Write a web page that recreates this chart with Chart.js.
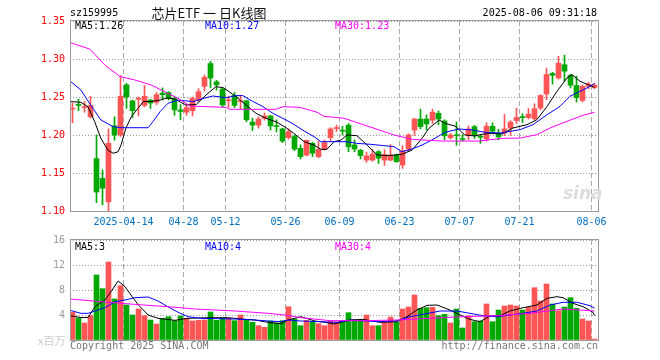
<!DOCTYPE html>
<html>
<head>
<meta charset="utf-8">
<script src="https://cdn.jsdelivr.net/npm/chart.js@4.4.1/dist/chart.umd.min.js"></script>
<style>
body { margin: 0; background: #fff; }
#wrap { position: relative; width: 660px; height: 360px; overflow: hidden; font-family: "DejaVu Sans Mono", monospace; font-size: 10px; }
canvas { position: absolute; left: 0; }
.t { position: absolute; white-space: nowrap; line-height: 12px; }
</style>
</head>
<body>
<div id="wrap">
  <canvas id="kline" width="660" height="230" style="top:0"></canvas>
  <canvas id="vol" width="660" height="130" style="top:230px"></canvas>

  <div class="t" style="left:70px;top:7px;color:#000">sz159995</div>
  <div class="t" style="left:150px;top:5px;width:118px;text-align:center;font-family:'Noto Sans CJK SC';font-size:13px;line-height:16px;color:#111">芯片ETF 一 日K线图</div>
  <div class="t" style="right:63px;top:7px;color:#000">2025-08-06 09:31:18</div>

  <div class="t" style="left:75px;top:20px;color:#000">MA5:1.26</div>
  <div class="t" style="left:205px;top:20px;color:#0000ff">MA10:1.27</div>
  <div class="t" style="left:335px;top:20px;color:#ff00ff">MA30:1.23</div>

  <div class="t" style="left:75px;top:241px;color:#000">MA5:3</div>
  <div class="t" style="left:205px;top:241px;color:#0000ff">MA10:4</div>
  <div class="t" style="left:335px;top:241px;color:#ff00ff">MA30:4</div>

  <div class="t" style="left:563px;top:183px;font-family:'DejaVu Sans';font-weight:bold;font-style:italic;font-size:17px;line-height:20px;color:#dcdcdc">sina</div>

  <div class="t" style="left:38px;top:334px;font-family:'Noto Sans CJK SC';font-size:11px;color:#ccc">x百万</div>
  <div class="t" style="left:70px;top:340px;color:#777">Copyright 2025 SINA.COM</div>
  <div class="t" style="right:62px;top:340px;color:#777">http://finance.sina.com.cn</div>
</div>

<script>
// 日K数据 2025-03-31 .. 2025-08-06
const opens = [
  1.234, 1.240, 1.236, 1.224, 1.169, 1.143, 1.112, 1.212, 1.200, 1.266,
  1.245, 1.247, 1.239, 1.246, 1.243, 1.255, 1.256, 1.248, 1.233, 1.230,
  1.232, 1.246, 1.264, 1.294, 1.270, 1.2605, 1.245, 1.252, 1.244, 1.245,
  1.217, 1.213, 1.222, 1.225, 1.2115, 1.208, 1.1965, 1.198, 1.1825, 1.1735,
  1.189, 1.1715, 1.1815, 1.1965, 1.2085, 1.2055, 1.213, 1.187, 1.180, 1.167,
  1.167, 1.178, 1.167, 1.167, 1.1735, 1.1605, 1.1815, 1.2065, 1.221, 1.221,
  1.2195, 1.2285, 1.2185, 1.1965, 1.1995, 1.1945, 1.199, 1.211, 1.1975, 1.195,
  1.2115, 1.202, 1.2025, 1.209, 1.219, 1.2235, 1.223, 1.2215, 1.2355, 1.254,
  1.281, 1.275, 1.2925, 1.2785, 1.265, 1.2455, 1.264, 1.2625
];
const closes = [
  1.2345, 1.239, 1.2365, 1.239, 1.125, 1.130, 1.189, 1.200, 1.251, 1.250,
  1.232, 1.2475, 1.251, 1.242, 1.253, 1.253, 1.248, 1.233, 1.231, 1.236,
  1.248, 1.257, 1.276, 1.275, 1.266, 1.2395, 1.2455, 1.239, 1.2445, 1.220,
  1.213, 1.221, 1.225, 1.212, 1.211, 1.192, 1.2045, 1.1815, 1.1715, 1.193,
  1.176, 1.181, 1.190, 1.208, 1.209, 1.205, 1.1845, 1.1815, 1.173, 1.1725,
  1.175, 1.1695, 1.1745, 1.1735, 1.165, 1.179, 1.200, 1.221, 1.211, 1.2145,
  1.230, 1.221, 1.199, 1.200, 1.199, 1.194, 1.208, 1.200, 1.197, 1.2115,
  1.205, 1.1975, 1.208, 1.217, 1.223, 1.223, 1.2275, 1.2345, 1.252, 1.2795,
  1.2785, 1.2945, 1.284, 1.2655, 1.249, 1.264, 1.267, 1.2655
];
const highs = [
  1.242, 1.247, 1.244, 1.251, 1.200, 1.154, 1.208, 1.224, 1.278, 1.268,
  1.246, 1.250, 1.265, 1.247, 1.256, 1.262, 1.257, 1.250, 1.240, 1.241,
  1.250, 1.261, 1.279, 1.297, 1.272, 1.2615, 1.251, 1.256, 1.252, 1.246,
  1.222, 1.224, 1.229, 1.226, 1.220, 1.209, 1.208, 1.200, 1.187, 1.1935,
  1.1905, 1.192, 1.1935, 1.2095, 1.213, 1.2115, 1.215, 1.1935, 1.181, 1.1775,
  1.181, 1.1795, 1.1805, 1.1875, 1.175, 1.186, 1.2015, 1.222, 1.234, 1.2265,
  1.234, 1.2315, 1.220, 1.202, 1.217, 1.2005, 1.212, 1.2125, 1.200, 1.216,
  1.216, 1.2075, 1.227, 1.219, 1.235, 1.228, 1.235, 1.241, 1.253, 1.288,
  1.2825, 1.3035, 1.305, 1.280, 1.2775, 1.266, 1.2695, 1.268
];
const lows = [
  1.216, 1.232, 1.230, 1.222, 1.111, 1.108, 1.100, 1.193, 1.198, 1.235,
  1.223, 1.225, 1.237, 1.235, 1.240, 1.246, 1.246, 1.226, 1.220, 1.226,
  1.225, 1.244, 1.258, 1.262, 1.259, 1.236, 1.236, 1.236, 1.234, 1.2175,
  1.206, 1.209, 1.2195, 1.2065, 1.204, 1.190, 1.1945, 1.1795, 1.1685, 1.1725,
  1.1715, 1.170, 1.180, 1.1915, 1.2045, 1.200, 1.178, 1.178, 1.1685, 1.164,
  1.1655, 1.1625, 1.160, 1.166, 1.164, 1.156, 1.178, 1.1995, 1.208, 1.2065,
  1.215, 1.2135, 1.1935, 1.1945, 1.1865, 1.192, 1.194, 1.1955, 1.189, 1.192,
  1.2015, 1.1935, 1.199, 1.1996, 1.215, 1.2165, 1.221, 1.220, 1.233, 1.2465,
  1.267, 1.2735, 1.2705, 1.262, 1.2435, 1.2435, 1.261, 1.261
];
// 成交量（百万）
const volumes = [
  4.43, 3.52, 2.72, 3.89, 10.4, 8.21, 12.48, 6.56, 8.69, 5.6,
  4.0, 4.96, 3.89, 3.2, 2.56, 3.47, 3.73, 3.09, 3.84, 3.47,
  3.04, 3.15, 3.2, 4.48, 3.15, 3.47, 3.47, 3.09, 4.0, 3.25,
  2.83, 2.29, 2.03, 3.04, 2.72, 3.09, 5.33, 3.36, 2.29, 3.15,
  2.83, 2.61, 2.29, 3.0, 2.9, 3.09, 4.37, 3.2, 3.04, 4.0,
  2.29, 2.29, 2.93, 3.68, 2.83, 4.96, 5.28, 7.2, 5.07, 5.17,
  5.23, 3.89, 4.11, 2.72, 4.96, 1.92, 3.89, 2.93, 3.04, 5.76,
  2.93, 4.8, 5.44, 5.6, 5.44, 4.8, 5.23, 8.37, 6.24, 8.96,
  5.76, 4.69, 5.28, 6.77, 5.07, 3.36, 3.04, 0.16
];

// 均线读数 [K线序号, 值]
const ma5Price = [
  [-0.4, 1.244], [1.4, 1.243], [2.6, 1.237], [3.7, 1.2175], [4.7, 1.196], [5.9, 1.180], [6.8, 1.176],
  [7.6, 1.178], [8.1, 1.187], [8.9, 1.209], [9.8, 1.224], [10.9, 1.235], [11.8, 1.244], [13.1, 1.244],
  [14.6, 1.246], [15.9, 1.249], [17.1, 1.247], [18.9, 1.2395], [20.6, 1.240], [22.25, 1.2526],
  [23.9, 1.2636], [25.1, 1.2623], [26.1, 1.257], [27.25, 1.2504], [28.9, 1.2395], [30.6, 1.2285],
  [32.25, 1.2219], [33.9, 1.2175], [35.6, 1.2096], [36.9, 1.2022], [38.6, 1.1912], [40.25, 1.1868],
  [41.4, 1.1811], [42.4, 1.1811], [43.6, 1.1912], [44.75, 1.1934], [45.75, 1.200], [47.4, 1.1991],
  [49.1, 1.1868], [50.75, 1.1737], [52.4, 1.1728], [54.9, 1.1746], [56.6, 1.1803], [58.25, 1.1956],
  [59.4, 1.2088], [61.1, 1.2197], [62.1, 1.2153], [63.75, 1.2118], [65.4, 1.200], [67.1, 1.1987],
  [68.25, 1.2009], [69.9, 1.2022], [71.6, 1.2013], [73.4, 1.2092], [75.75, 1.2136], [77.4, 1.2202],
  [79.1, 1.2377], [80.75, 1.2575], [82.4, 1.275], [83.25, 1.2794], [84.6, 1.2706], [86.25, 1.2653],
  [87, 1.2625]
];
const ma10Price = [
  [-0.4, 1.271], [1.4, 1.2592], [3.4, 1.235], [4.75, 1.2197], [6.75, 1.211], [8.1, 1.2096],
  [12.6, 1.2096], [13.4, 1.2175], [14.6, 1.2307], [15.9, 1.2417], [17.6, 1.246], [20.1, 1.2439],
  [22.25, 1.2491], [23.4, 1.2513], [25.6, 1.249], [27.25, 1.2518], [28.4, 1.2518], [30.1, 1.2439],
  [31.75, 1.2373], [33.4, 1.2285], [35.6, 1.2197], [36.9, 1.214], [38.6, 1.2053], [40.25, 1.1978],
  [41.4, 1.1912], [45.75, 1.1912], [47.4, 1.189], [49.75, 1.1877], [51.9, 1.186], [53.6, 1.1846],
  [54.9, 1.178], [56.6, 1.1816], [58.25, 1.1868], [59.9, 1.1934], [62.1, 1.2035], [64.4, 1.2079],
  [66.6, 1.2066], [68.75, 1.2035], [71.25, 1.2026], [74.6, 1.207], [76.75, 1.2136], [79.1, 1.2268],
  [81.25, 1.2377], [82.9, 1.2509], [84.6, 1.2575], [86.25, 1.264], [87, 1.268]
];
const ma30Price = [
  [-0.4, 1.3216], [2.9, 1.313], [5.4, 1.292], [7.9, 1.277], [10.4, 1.2724], [13.1, 1.2658],
  [15.9, 1.2548], [17.6, 1.2482], [19.6, 1.238], [25.6, 1.2364], [26.1, 1.2338], [33.9, 1.2338],
  [35.1, 1.2373], [37.9, 1.2364], [40.75, 1.230], [41.9, 1.2246], [45.25, 1.222], [48.6, 1.2132],
  [53.6, 1.200], [56.6, 1.1943], [61.6, 1.192], [67.75, 1.192], [71.6, 1.1956], [74.6, 1.196],
  [77.4, 1.2004], [79.6, 1.2092], [82.4, 1.218], [85.1, 1.2259], [87, 1.230]
];
const ma5Vol = [
  [-0.4, 3.89], [1.4, 3.6], [2.6, 3.6], [3.75, 5.33], [5.4, 6.4], [6.4, 7.7], [7.6, 9.44], [8.75, 8.53],
  [9.75, 7.2], [10.9, 5.7], [12.6, 4.0], [14.25, 3.47], [17.1, 3.15], [19.25, 3.47], [22.6, 3.57],
  [25.9, 3.57], [28.1, 3.36], [30.4, 3.2], [32.6, 2.83], [34.75, 2.61], [35.9, 3.2], [38.1, 3.73],
  [40.4, 3.04], [42.1, 2.83], [43.6, 2.56], [46.25, 3.2], [48.4, 3.3], [51.25, 2.83], [54.1, 2.93],
  [55.75, 3.73], [57.4, 4.8], [59.1, 5.55], [60.75, 5.6], [62.9, 4.8], [64.6, 4.0], [66.25, 3.3],
  [67.9, 2.93], [69.6, 3.84], [71.25, 3.89], [72.9, 4.64], [75.1, 5.17], [77.4, 5.6], [79.1, 6.67],
  [80.75, 6.93], [81.75, 6.77], [83.4, 5.87], [85.1, 5.33], [86.75, 4.43], [87, 3.9]
];
const ma10Vol = [
  [-0.4, 4.75], [1.4, 4.27], [2.6, 4.27], [4.25, 4.8], [5.4, 5.17], [7.1, 6.13], [8.75, 6.4],
  [10.4, 6.77], [12.6, 6.88], [14.25, 6.24], [15.9, 5.33], [17.6, 4.43], [19.25, 3.73], [21.4, 3.47],
  [27.1, 3.36], [30.4, 3.2], [32.6, 3.04], [34.75, 2.93], [35.9, 3.2], [38.1, 3.04], [44.1, 2.83],
  [46.25, 3.2], [51.25, 2.93], [54.1, 3.09], [56.25, 3.73], [58.4, 4.11], [61.25, 4.64], [64.1, 4.64],
  [66.25, 4.27], [68.4, 3.89], [70.75, 3.73], [72.9, 4.0], [75.1, 4.27], [77.4, 4.64], [79.6, 5.6],
  [81.75, 6.03], [84.1, 6.03], [86.25, 5.49], [87, 5.1]
];
const ma30Vol = [
  [-0.4, 6.56], [4.75, 6.13], [10.4, 5.7], [15.9, 5.33], [20.4, 4.96], [27.1, 4.64], [32.6, 4.27],
  [35.4, 4.0], [38.1, 3.57], [42.9, 3.1], [48.4, 3.09], [54.1, 3.2], [59.6, 3.47], [65.1, 3.73],
  [70.75, 3.89], [76.25, 4.27], [81.75, 4.96], [87, 4.64]
];

// 坐标轴
const dateIdx = [9, 19, 26, 36, 45, 55, 65, 75, 87];
const dateLabels = ['2025-04-14', '04-28', '05-12', '05-26', '06-09', '06-23', '07-07', '07-21', '08-06'];
const priceTicks = [1.10, 1.15, 1.20, 1.25, 1.30, 1.35];
const volTicks = [0, 4, 8, 12, 16];

const upColor = '#ff5555';
const downColor = '#00a800';
const monoFont = { family: 'DejaVu Sans Mono', size: 10 };

const idx = closes.map((_, i) => i);
const candleColors = idx.map(i => closes[i] >= opens[i] ? upColor : downColor);
const xMin = -2.5 / 6;
const xMax = closes.length + xMin;

// 画外框
const boxPlugin = {
    id: 'box',
    afterDraw(chart) {
        const { ctx, chartArea: a } = chart;
        ctx.save();
        ctx.strokeStyle = '#999';
        ctx.lineWidth = 1;
        ctx.strokeRect(Math.round(a.left) + 0.5, Math.round(a.top) - 0.5,
            Math.round(a.right - a.left), Math.round(a.bottom - a.top) + 1);
        ctx.restore();
    }
};

function maLine(points, color) {
    return {
        type: 'line',
        data: points.map(p => ({ x: p[0], y: p[1] })),
        borderColor: color,
        borderWidth: 1,
        pointRadius: 0,
        tension: 0,
        order: 0
    };
}

function xScale(showLabels) {
    return {
        type: 'linear',
        min: xMin,
        max: xMax,
        offset: false,
        bounds: 'data',
        grid: { offset: false, color: '#aaa', drawTicks: false },
        border: { display: false, dash: [5, 3] },
        ticks: {
            display: showLabels,
            autoSkip: false,
            maxRotation: 0,
            minRotation: 0,
            padding: 5,
            color: '#0070c0',
            font: monoFont,
            callback: (v, i) => dateLabels[i]
        },
        afterBuildTicks: s => { s.ticks = dateIdx.map(i => ({ value: i - 0.5 })); },
        afterFit: s => { s.height = showLabels ? 19 : 0; s.paddingLeft = 0; s.paddingRight = 0; }
    };
}

function yScale(min, max, ticks, color, fmt) {
    return {
        type: 'linear',
        min: min,
        max: max,
        bounds: 'data',
        beginAtZero: false,
        grid: { color: '#999', drawTicks: false },
        border: { display: false, dash: [1, 2] },
        ticks: { padding: 5, color: color, font: monoFont, callback: fmt },
        afterBuildTicks: s => { s.ticks = ticks.map(v => ({ value: v })); },
        afterFit: s => { s.width = 70; s.paddingTop = 0; s.paddingBottom = 0; }
    };
}

const baseOptions = {
    responsive: false,
    animation: false,
    events: [],
    plugins: { legend: { display: false }, tooltip: { enabled: false } }
};

// K线图
new Chart(document.getElementById('kline'), {
    type: 'bar',
    data: {
        datasets: [
            {
                data: idx.map(i => ({ x: i, y: [lows[i], highs[i]] })),
                backgroundColor: candleColors,
                barThickness: 1,
                grouped: false,
                order: 2
            },
            {
                data: idx.map(i => ({ x: i, y: [opens[i], closes[i]] })),
                backgroundColor: candleColors,
                barThickness: 5,
                minBarLength: 1,
                grouped: false,
                order: 1
            },
            maLine(ma30Price, '#ff00ff'),
            maLine(ma10Price, '#0000ff'),
            maLine(ma5Price, '#000000')
        ]
    },
    options: {
        ...baseOptions,
        layout: { padding: { top: 21, right: 62, left: 0, bottom: 0 } },
        scales: {
            x: xScale(true),
            y: yScale(1.10, 1.35, priceTicks, '#ff0000', v => v.toFixed(2))
        }
    },
    plugins: [boxPlugin]
});

// 成交量图
new Chart(document.getElementById('vol'), {
    type: 'bar',
    data: {
        datasets: [
            {
                data: idx.map(i => ({ x: i, y: volumes[i] })),
                backgroundColor: candleColors,
                barThickness: 5,
                grouped: false,
                order: 1
            },
            maLine(ma30Vol, '#ff00ff'),
            maLine(ma10Vol, '#0000ff'),
            maLine(ma5Vol, '#000000')
        ]
    },
    options: {
        ...baseOptions,
        layout: { padding: { top: 10, right: 62, left: 0, bottom: 20 } },
        scales: {
            x: xScale(false),
            y: yScale(0, 16, volTicks, '#999', v => v === 0 ? '' : String(v))
        }
    },
    plugins: [boxPlugin]
});
</script>
</body>
</html>
